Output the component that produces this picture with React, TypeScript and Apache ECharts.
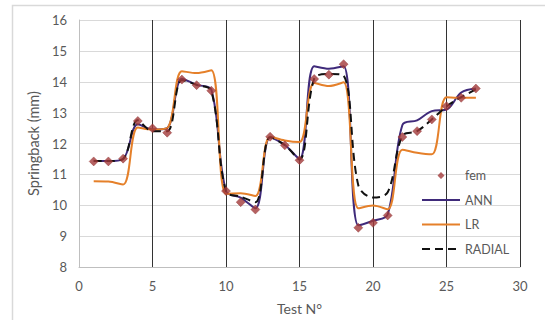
import React, { useEffect, useRef } from "react";
import * as echarts from "echarts";

// Test numbers 1..27
const testNumbers = [1, 2, 3, 4, 5, 6, 7, 8, 9, 10, 11, 12, 13, 14, 15, 16, 17, 18, 19, 20, 21, 22, 23, 24, 25, 26, 27];

// Springback (mm) per test
const femValues = [11.42, 11.42, 11.51, 12.73, 12.49, 12.35, 14.07, 13.89, 13.71, 10.46, 10.1, 9.86, 12.22, 11.94, 11.46, 14.09, 14.23, 14.57, 9.27, 9.43, 9.67, 12.21, 12.4, 12.78, 13.21, 13.48, 13.78];
const annValues = [11.43, 11.43, 11.5, 12.62, 12.45, 12.5, 14.1, 13.9, 13.75, 10.45, 10.25, 9.9, 12.2, 11.95, 11.5, 14.5, 14.42, 14.5, 9.35, 9.5, 9.7, 12.6, 12.75, 13.05, 13.1, 13.65, 13.78];
const lrValues = [10.78, 10.77, 10.67, 12.52, 12.45, 12.5, 14.34, 14.28, 14.37, 10.37, 10.39, 10.3, 12.22, 12.1, 12.05, 13.96, 13.86, 13.98, 9.9, 9.99, 9.87, 11.8, 11.7, 11.65, 13.5, 13.48, 13.48];
const radialValues = [11.43, 11.43, 11.5, 12.75, 12.4, 12.4, 14.05, 13.9, 13.7, 10.45, 10.28, 10.1, 12.2, 11.95, 11.48, 14.1, 14.25, 14.2, 10.65, 10.25, 10.42, 12.25, 12.4, 12.78, 13.2, 13.5, 13.75];

const seriesNames = ["fem", "ANN", "LR", "RADIAL"];
const xTitle = "Test N°";
const yTitle = "Springback (mm)";

const pairs = (ys: number[]) => testNumbers.map((x, i) => [x, ys[i]]);

const FONT = "Lato, 'Open Sans', sans-serif";
const TEXT = "#595959";
const FEM_COLOR = "#A3393A";

// Legend key for the marker-only series: a small diamond centred in the
// 38x7 key box (two vanishing corner specks pin the box so it is not stretched).
const FEM_KEY =
  "path://M0,0L0.0001,0L0,0.0001Z M38,7L37.9999,7L38,6.9999Z M19,0L22.5,3.5L19,7L15.5,3.5Z";

export default function App() {
  const ref = useRef<HTMLDivElement>(null);

  useEffect(() => {
    document.body.style.margin = "0";
    if (!ref.current) return;
    const chart = echarts.init(ref.current, undefined, { renderer: "svg" });
    const hiddenSymbol = { opacity: 0 };
    chart.setOption({
      animation: false,
      backgroundColor: "#ffffff",
      textStyle: { fontFamily: FONT },
      graphic: [
        {
          type: "rect",
          shape: { x: 12.5, y: 5.5, width: 600, height: 400 },
          style: { fill: "none", stroke: "#D9D9D9", lineWidth: 1.5 },
          silent: true,
        },
      ],
      grid: { left: 79, right: 25, top: 20, bottom: 52, containLabel: false },
      legend: {
        orient: "vertical",
        left: 421,
        top: 169,
        padding: 0,
        itemWidth: 38,
        itemHeight: 7,
        itemGap: 11.5,
        textStyle: { fontFamily: FONT, fontSize: 12.5, color: TEXT },
        data: [
          {
            name: seriesNames[0],
            icon: FEM_KEY,
            itemStyle: { color: FEM_COLOR, borderWidth: 0, borderColor: "transparent" },
          },
          { name: seriesNames[1], itemStyle: hiddenSymbol },
          { name: seriesNames[2], itemStyle: hiddenSymbol },
          { name: seriesNames[3], itemStyle: hiddenSymbol },
        ],
      },
      xAxis: {
        type: "value",
        min: 0,
        max: 30,
        interval: 5,
        name: xTitle,
        nameLocation: "middle",
        nameGap: 34,
        nameTextStyle: { fontFamily: FONT, fontSize: 14, color: TEXT },
        axisLine: { show: true, lineStyle: { color: "#BFBFBF", width: 1 } },
        axisTick: { show: false },
        axisLabel: { fontFamily: FONT, fontSize: 13, color: TEXT, margin: 12 },
        splitLine: { show: true, showMinLine: false, lineStyle: { color: "#333333", width: 1 } },
      },
      yAxis: {
        type: "value",
        min: 8,
        max: 16,
        interval: 1,
        name: yTitle,
        nameLocation: "middle",
        nameGap: 28,
        nameRotate: 90,
        nameTextStyle: { fontFamily: FONT, fontSize: 14.5, color: TEXT },
        axisLine: { show: true, lineStyle: { color: "#BFBFBF", width: 1 } },
        axisTick: { show: false },
        axisLabel: { fontFamily: FONT, fontSize: 13, color: TEXT, margin: 12 },
        splitLine: { show: true, showMinLine: false, lineStyle: { color: "#D9D9D9", width: 1 } },
      },
      series: [
        {
          name: seriesNames[1],
          type: "line",
          data: pairs(annValues),
          smooth: 0.35,
          symbol: "none",
          color: "#3F2A7A",
          lineStyle: { color: "#3F2A7A", width: 2 },
          z: 2,
        },
        {
          name: seriesNames[2],
          type: "line",
          data: pairs(lrValues),
          smooth: 0.35,
          symbol: "none",
          color: "#E5802A",
          lineStyle: { color: "#E5802A", width: 2 },
          z: 3,
        },
        {
          name: seriesNames[3],
          type: "line",
          data: pairs(radialValues),
          smooth: 0.35,
          symbol: "none",
          color: "#111111",
          lineStyle: { color: "#111111", width: 2, type: [8, 5] },
          z: 4,
        },
        {
          name: seriesNames[0],
          type: "scatter",
          data: pairs(femValues),
          symbol: "diamond",
          symbolSize: 9,
          itemStyle: { color: FEM_COLOR, borderColor: "#8E2F30", borderWidth: 0.5 },
          z: 5,
        },
      ],
    });
    return () => chart.dispose();
  }, []);

  return <div ref={ref} style={{ width: 545, height: 320 }} />;
}
